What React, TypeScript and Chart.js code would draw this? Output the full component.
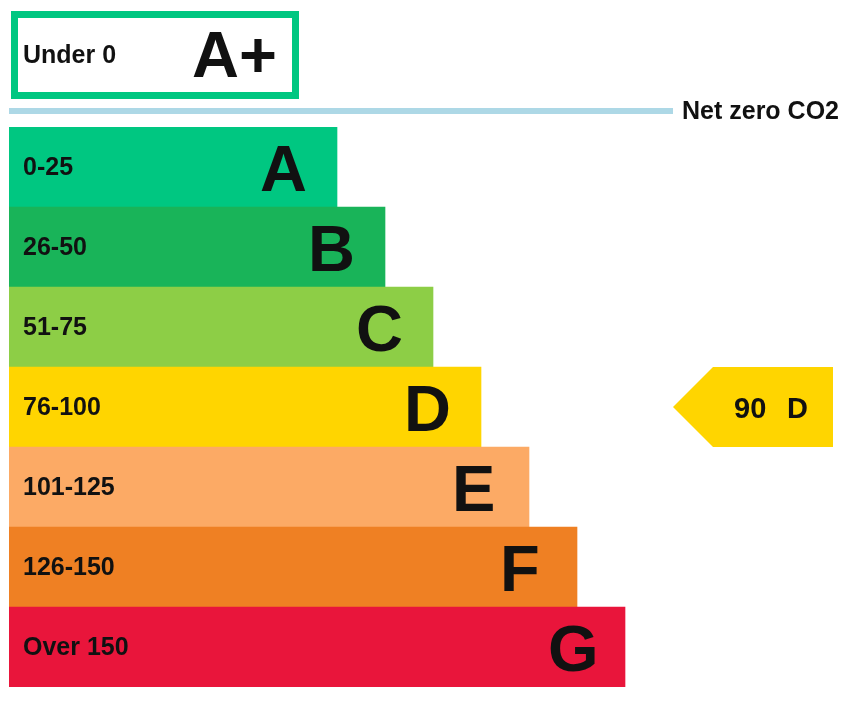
import { useEffect, useRef } from "react";
import { Chart, registerables } from "chart.js";

Chart.register(...registerables);

// energy bands, best to worst
const ratings = ["A", "B", "C", "D", "E", "F", "G"];
const ranges = ["0-25", "26-50", "51-75", "76-100", "101-125", "126-150", "Over 150"];
const barLengths = [41, 47, 53, 59, 65, 71, 77];
const bandColors = ["#00c781", "#19b459", "#8dce46", "#ffd500", "#fcaa65", "#ef8023", "#e9153b"];

// the A+ band sits above the net zero line
const topRating = "A+";
const topRange = "Under 0";
const topLength = 36.25;

const netZeroLabel = "Net zero CO2";

// current score pointer
const currentScore = 90;
const currentRating = "D";
const pointerFrom = 83;
const pointerTo = 103;

const FONT = '"Liberation Sans", Arial, Helvetica, sans-serif';

const epcLabels = {
  id: "epcLabels",
  afterDatasetsDraw(chart: any) {
    const { ctx } = chart;
    const x = chart.scales.x;
    const y = chart.scales.y;
    const x0 = x.getPixelForValue(0);
    const rowH = y.getPixelForValue(1) - y.getPixelForValue(0);
    const firstC = y.getPixelForValue(0);

    ctx.save();
    ctx.fillStyle = "#111";
    ctx.textAlign = "left";
    ctx.textBaseline = "alphabetic";

    // band labels
    ratings.forEach((r, i) => {
      const cy = y.getPixelForValue(i);
      const end = x.getPixelForValue(barLengths[i]);
      ctx.font = `bold 25px ${FONT}`;
      ctx.fillText(ranges[i], x0 + 14, cy + 7.5);
      ctx.font = `bold 65px ${FONT}`;
      ctx.fillText(r, end - 77, cy + 23.5);
    });

    // A+ box
    const boxC = firstC - 1.4 * rowH;
    const boxH = 1.1 * rowH;
    const boxL = x0 + 2;
    const boxR = x.getPixelForValue(topLength);
    ctx.strokeStyle = bandColors[0];
    ctx.lineWidth = 7;
    ctx.strokeRect(boxL + 3.5, boxC - boxH / 2 + 3.5, boxR - boxL - 7, boxH - 7);
    ctx.font = `bold 25px ${FONT}`;
    ctx.fillText(topRange, x0 + 14, boxC + 8);
    ctx.font = `bold 65px ${FONT}`;
    ctx.fillText(topRating, boxR - 107, boxC + 22);

    // net zero line
    const tipX = x.getPixelForValue(pointerFrom);
    const lineY = firstC - 0.7 * rowH;
    ctx.strokeStyle = "#add8e6";
    ctx.lineWidth = 6;
    ctx.beginPath();
    ctx.moveTo(x0, lineY);
    ctx.lineTo(tipX, lineY);
    ctx.stroke();
    ctx.font = `bold 25px ${FONT}`;
    ctx.fillText(netZeroLabel, tipX + 9, lineY + 8);

    // pointer arrow on current band
    const idx = ratings.indexOf(currentRating);
    const pc = y.getPixelForValue(idx);
    const half = rowH / 2;
    const rightX = x.getPixelForValue(pointerTo);
    ctx.fillStyle = bandColors[idx];
    ctx.beginPath();
    ctx.moveTo(tipX, pc);
    ctx.lineTo(tipX + half, pc - half);
    ctx.lineTo(rightX, pc - half);
    ctx.lineTo(rightX, pc + half);
    ctx.lineTo(tipX + half, pc + half);
    ctx.closePath();
    ctx.fill();
    ctx.fillStyle = "#111";
    ctx.font = `bold 29px ${FONT}`;
    ctx.fillText(String(currentScore), tipX + 61, pc + 11);
    ctx.fillText(currentRating, tipX + 114, pc + 11);

    ctx.restore();
  },
};

export default function App() {
  const canvasRef = useRef<HTMLCanvasElement | null>(null);

  useEffect(() => {
    if (!canvasRef.current) return;
    const chart = new Chart(canvasRef.current, {
      type: "bar",
      data: {
        labels: ratings,
        datasets: [
          {
            data: barLengths,
            backgroundColor: bandColors,
            borderWidth: 0,
            barPercentage: 1,
            categoryPercentage: 1,
          },
        ],
      },
      options: {
        indexAxis: "y",
        animation: false,
        responsive: true,
        maintainAspectRatio: false,
        layout: { padding: { left: 1, right: 0, top: 119, bottom: 11 } },
        scales: {
          x: { display: false, min: 0, max: 106.125 },
          y: { display: false },
        },
        plugins: {
          legend: { display: false },
          tooltip: { enabled: false },
        },
      },
      plugins: [epcLabels],
    });
    return () => chart.destroy();
  }, []);

  return (
    <div style={{ width: 850, height: 690, position: "relative" }}>
      <canvas ref={canvasRef} />
    </div>
  );
}
